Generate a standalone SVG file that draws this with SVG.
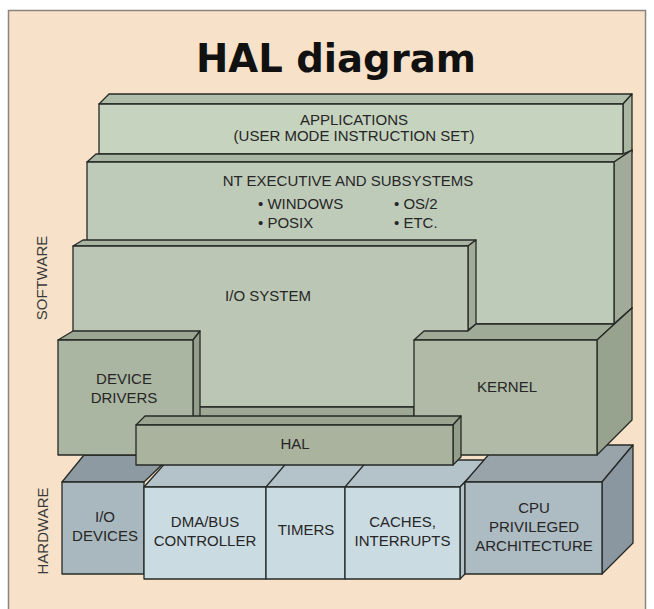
<svg xmlns="http://www.w3.org/2000/svg" width="654" height="609" viewBox="0 0 654 609">
<style>
  .ln{stroke:#262a26;stroke-width:1.3;stroke-linejoin:round}
  .t{font-family:"Liberation Sans",Arial,sans-serif;font-size:15px;fill:#262626;text-anchor:middle}
  .tl{font-family:"Liberation Sans",Arial,sans-serif;font-size:15px;fill:#262626}
  .side{font-family:"Liberation Sans",Arial,sans-serif;font-size:15px;fill:#3a3a3a;text-anchor:middle}
  .title{font-family:"DejaVu Sans",Verdana,sans-serif;font-weight:bold;font-size:39px;fill:#111;text-anchor:middle}
  .gf{fill:#bfcbb9}.gt{fill:#a9b5a3}.gr{fill:#a0ac99}
  .af{fill:#c5d3bf}.at{fill:#afbda9}.ar{fill:#a8b6a2}
  .kf{fill:#b0baa7}.kt{fill:#a0ab97}.kr{fill:#98a38f}
  .df{fill:#aab5a2}.dt{fill:#9ba793}.dr{fill:#939f8b}
  .lf{fill:#a9b39e}.lt{fill:#9aa590}.lr{fill:#939e8a}
  .hf{fill:#a9b8bf}.ht{fill:#8d9aa1}
  .mf{fill:#cbdbe2}.mt{fill:#b4c3c9}
  .cf{fill:#adbbc2}.ct{fill:#98a4aa}.cr{fill:#8a97a0}
</style>
<rect x="0" y="0" width="654" height="609" fill="#ffffff"/>
<rect x="8.5" y="10.5" width="637" height="600" fill="#f7e2c9" stroke="#8a8580" stroke-width="1.5"/>
<text class="title" x="336" y="72" textLength="280" lengthAdjust="spacingAndGlyphs">HAL diagram</text>
<text class="side" transform="translate(47,278) rotate(-90)">SOFTWARE</text>
<text class="side" transform="translate(48,531) rotate(-90)">HARDWARE</text>

<g id="io-devices">
  <polygon class="ln ht" points="62,482 84,455 172,455 144,482"/>
  <rect class="ln hf" x="62" y="482" width="82" height="92"/>
  <text class="t" x="105" y="521.5">I/O</text>
  <text class="t" x="105" y="540.5">DEVICES</text>
</g>
<g id="hw-middle-top">
  <polygon class="ln mt" points="144,487 168,460 486,460 460,487"/>
  <polyline class="ln" fill="none" points="266,487 289,460"/>
  <polyline class="ln" fill="none" points="345,487 368,460"/>
  <polygon class="ln mt" points="460,487 465,482 465,574 460,579"/>
</g>
<g id="dma-bus-controller">
  <rect class="ln mf" x="144" y="487" width="122" height="92"/>
  <text class="t" x="205" y="527">DMA/BUS</text>
  <text class="t" x="205" y="546">CONTROLLER</text>
</g>
<g id="timers">
  <rect class="ln mf" x="266" y="487" width="79" height="92"/>
  <text class="t" x="306" y="535">TIMERS</text>
</g>
<g id="caches-interrupts">
  <rect class="ln mf" x="345" y="487" width="115" height="92"/>
  <text class="t" x="402.5" y="527">CACHES,</text>
  <text class="t" x="402.5" y="546">INTERRUPTS</text>
</g>
<g id="cpu">
  <polygon class="ln ct" points="465,482 497,445 633,445 602,482"/>
  <polygon class="ln cr" points="602,482 633,445 633,543 602,574"/>
  <rect class="ln cf" x="465" y="482" width="137" height="92"/>
  <text class="t" x="534" y="513">CPU</text>
  <text class="t" x="534" y="532">PRIVILEGED</text>
  <text class="t" x="534" y="551">ARCHITECTURE</text>
</g>

<g id="applications">
  <polygon class="ln at" points="99,104 109,94 632,94 623,104"/>
  <polygon class="ln ar" points="623,104 632,94 632,152 623,154"/>
  <rect class="ln af" x="99" y="104" width="524" height="50"/>
  <text class="t" x="354" y="125">APPLICATIONS</text>
  <text class="t" x="354" y="141">(USER MODE INSTRUCTION SET)</text>
</g>
<g id="nt-executive">
  <polygon class="ln gt" points="87,162 96,154 623,154 632,150 614,162"/>
  <polygon class="ln gr" points="614,162 632,150 632,308 614,324"/>
  <rect class="ln gf" x="87" y="162" width="527" height="162"/>
  <text class="t" x="348" y="186">NT EXECUTIVE AND SUBSYSTEMS</text>
  <text class="tl" x="258" y="209">• WINDOWS</text>
  <text class="tl" x="258" y="227.5">• POSIX</text>
  <text class="tl" x="394" y="209">• OS/2</text>
  <text class="tl" x="394" y="227.5">• ETC.</text>
</g>
<g id="io-system">
  <polygon class="ln gt" points="73,246 83,240 476,240 468,246"/>
  <polygon class="ln gr" points="468,246 476,240 476,324 468,330"/>
  <rect class="ln" fill="#bbc7b4" x="73" y="246" width="395" height="161"/>
  <rect class="ln" fill="#9da994" x="193" y="407" width="221" height="19"/>
  <text class="t" x="268" y="300.5">I/O SYSTEM</text>
</g>
<g id="kernel">
  <polygon class="ln kt" points="414,340 424,331 468,331 476,324 614,324 632,308 597,340"/>
  <polygon class="ln kr" points="597,340 632,308 632,420 597,455"/>
  <rect class="ln kf" x="414" y="340" width="183" height="115"/>
  <text class="t" x="507" y="392">KERNEL</text>
</g>
<g id="device-drivers">
  <polygon class="ln dt" points="58,340 73,331 200,331 193,340"/>
  <polygon class="ln dr" points="193,340 200,331 200,420 193,426"/>
  <rect class="ln df" x="58" y="340" width="135" height="115"/>
  <text class="t" x="124" y="384">DEVICE</text>
  <text class="t" x="124" y="402.5">DRIVERS</text>
</g>
<g id="hal">
  <polygon class="ln lt" points="136,425 145,416 461,416 453,425"/>
  <polygon class="ln lr" points="453,425 461,416 461,457 453,465"/>
  <rect class="ln lf" x="136" y="425" width="317" height="40"/>
  <text class="t" x="295" y="449">HAL</text>
</g>
</svg>
